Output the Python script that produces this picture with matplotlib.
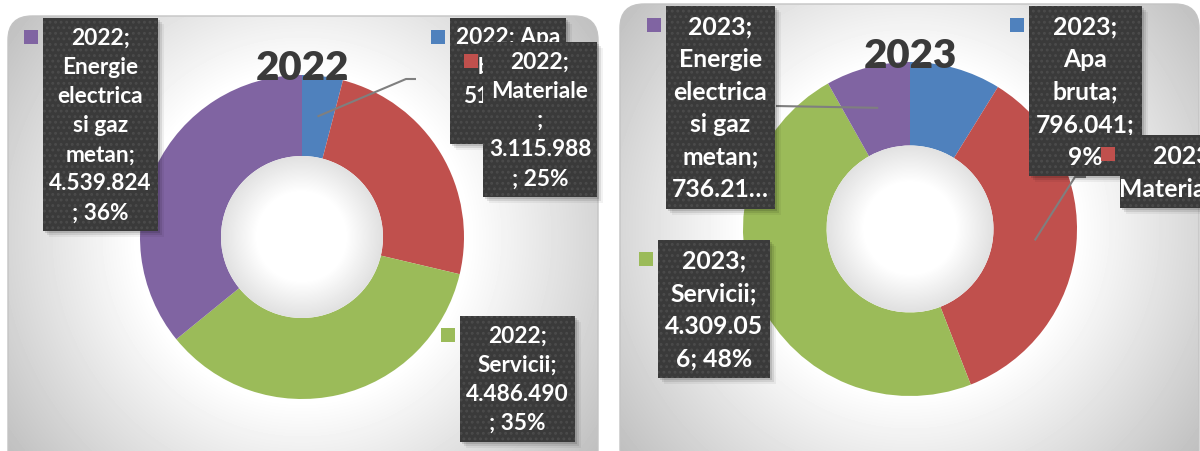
import numpy as np
import matplotlib.pyplot as plt
from matplotlib.patches import FancyBboxPatch, Rectangle, Circle

plt.rcParams['font.family'] = ['Lato', 'DejaVu Sans']

# categoriile, in ordinea feliilor (sens orar, de sus)
categories = ['Apa bruta', 'Materiale', 'Servicii', 'Energie electrica si gaz metan']
colors = ['#4f81bd', '#c0504d', '#9bbb59', '#8064a2']

years = ['2022', '2023']
values_2022 = [515000, 3115988, 4486490, 4539824]
values_2023 = [796041, 3180000, 4309056, 736214]

# asezarea fiecarui grafic in pixeli (x, y de sus in jos)
charts = [
    dict(year=years[0], values=values_2022, cx=302, cy=238, r=162,
         panel=(8, 17, 590, 460), title_y=68, fs=16.3, pitch=29.2, pad=4.4,
         boxes=[(450, 19, 116, [9, 6, 8], 9),
                (483, 43, 114, [5, 9, 1, 9], 9),
                (460, 317, 115, [5, 9, 9], 9),
                (43, 19, 115, [5, 7, 9, 6, 6, 9], 9)],
         leaders={0: [(406, 80), (416, 80)]}),
    dict(year=years[1], values=values_2023, cx=910, cy=230, r=167,
         panel=(620, 5, 579, 470), title_y=57, fs=17.8, pitch=32.6, pad=3.7,
         boxes=[(1029, 7, 113, [5, 3, 6, 8], 9),
                (1120, 136, 130, [5, 10], 2),
                (658, 241, 112, [5, 9, 8], 9),
                (666, 7, 109, [5, 7, 9, 6, 6, 6], 6)],
         leaders={3: [(776, 107)], 1: [(1075, 178), (1086, 178)]}),
]


def fmt(v):
    return f"{v:,}".replace(',', '.')


def chop(s, counts, max_lines):
    # rupe eticheta pe randuri de lungimi date, ca in Excel
    lines = []
    for n in counts:
        s = s.lstrip()
        lines.append(s[:n])
        s = s[n:]
    if s.strip():
        lines.append(s.strip())
    if len(lines) > max_lines:
        lines = lines[:max_lines]
        lines[-1] += '…'
    return lines


def radial(x0, y0, x1, y1, cx, cy, r0, span, depth):
    xs = np.arange(x0, x1) + 0.5
    ys = np.arange(y0, y1) + 0.5
    X, Y = np.meshgrid(xs, ys)
    d = np.hypot(X - cx, Y - cy)
    t = np.clip((d - r0) / span, 0, 1)
    return 1 - depth * t


fig = plt.figure(figsize=(12, 4.52), dpi=100)
ax = fig.add_axes([0, 0, 1, 1])
plt.rcParams['hatch.linewidth'] = 1.3

for ch in charts:
    cx, cy, r = ch['cx'], ch['cy'], ch['r']
    vals = np.array(ch['values'], dtype=float)
    total = vals.sum()

    # panoul cu gradient radial
    px, py, pw, ph = ch['panel']
    panel = FancyBboxPatch((px, py), pw, ph, boxstyle='round,pad=0,rounding_size=24',
                           facecolor='none', edgecolor='#c4c4c4', lw=1, zorder=1)
    ax.add_patch(panel)
    g = radial(px, py, px + pw, py + ph, cx, cy, 165, 200, 0.25)
    im = ax.imshow(g, cmap='gray', vmin=0, vmax=1, extent=(px, px + pw, py + ph, py),
                   aspect='auto', interpolation='bilinear', zorder=0.5)
    im.set_clip_path(panel)

    # inelul (axa y e inversata, deci counterclock=True inseamna sens orar)
    ax.pie(vals, colors=colors, startangle=-90, counterclock=True, radius=r,
           center=(cx, cy), frame=True,
           wedgeprops=dict(width=r * 0.5, edgecolor='none', linewidth=0, zorder=2))

    # umbra din interiorul gaurii
    ri = r * 0.5
    hole = Circle((cx, cy), ri, facecolor='none', edgecolor='none', zorder=2.5)
    ax.add_patch(hole)
    gh = radial(cx - ri, cy - ri, cx + ri, cy + ri, cx, cy, ri * 0.55, ri * 0.45, 0.12)
    imh = ax.imshow(gh, cmap='gray', vmin=0, vmax=1,
                    extent=(cx - ri, cx + ri, cy + ri, cy - ri),
                    aspect='auto', interpolation='bilinear', zorder=2.5)
    imh.set_clip_path(hole)

    ax.text(cx, ch['title_y'], ch['year'], ha='center', va='center', fontsize=29,
            fontweight='heavy', color='#3a3a3a', zorder=3)

    # linii de legatura, pornind din mijlocul feliei
    cum = np.cumsum(vals) / total
    mids = cum - vals / total / 2
    for i, pts in ch['leaders'].items():
        th = np.deg2rad(-90 + 360 * mids[i])
        ax0 = cx + 0.75 * r * np.cos(th)
        ay0 = cy + 0.75 * r * np.sin(th)
        xs = [ax0] + [p[0] for p in pts]
        ys = [ay0] + [p[1] for p in pts]
        ax.plot(xs, ys, color='#7f7f7f', lw=1.5, zorder=4, solid_capstyle='butt')

    # etichetele
    for i, (bx, by, bw, counts, max_lines) in enumerate(ch['boxes']):
        pct = int(round(vals[i] / total * 100))
        label = f"{ch['year']}; {categories[i]}; {fmt(int(vals[i]))}; {pct}%"
        lines = chop(label, counts, max_lines)
        bh = len(lines) * ch['pitch'] + 2 * ch['pad']
        z = 10 + 4 * i
        for k, a in [(2, 0.12), (4, 0.09), (6, 0.05)]:
            ax.add_patch(Rectangle((bx + k, by + k), bw, bh, facecolor='black',
                                   alpha=a, lw=0, zorder=z))
        ax.add_patch(Rectangle((bx, by), bw, bh, facecolor='#3a3a3a', edgecolor='#4b4b4b',
                               hatch='...', lw=0, zorder=z + 1))
        for j, line in enumerate(lines):
            ty = by + ch['pad'] + (j + 0.5) * ch['pitch']
            ax.text(bx + bw / 2, ty, line, ha='center', va='center', color='white',
                    fontsize=ch['fs'], fontweight='bold', zorder=z + 2)
        ax.add_patch(Rectangle((bx - 19, by + 12), 14, 14, facecolor=colors[i],
                               lw=0, zorder=z + 3))

ax.set_xlim(0, 1200)
ax.set_ylim(452, 0)
ax.axis('off')

fig.savefig('out.png', dpi=100, facecolor='white')
